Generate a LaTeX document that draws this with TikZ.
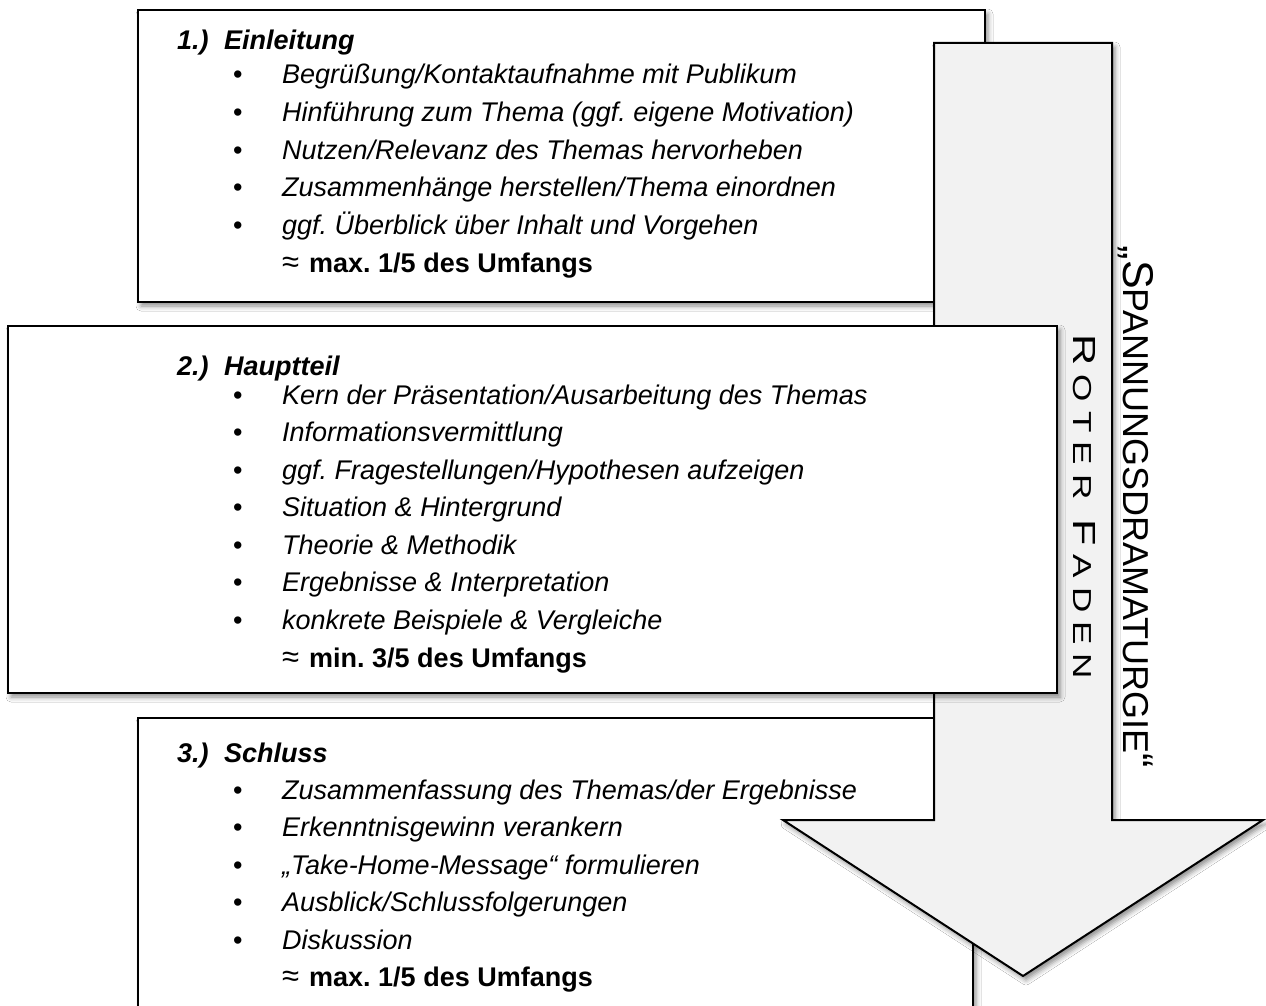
\documentclass[tikz,border=0pt]{standalone}
\usepackage{fontspec}
\setmainfont{Liberation Sans}
\newfontfamily\widefont[FakeStretch=1.35]{Liberation Sans}
\usetikzlibrary{shadows.blur}
\begin{document}
\frenchspacing
\begin{tikzpicture}[x=1pt,y=-1pt,
  boxstyle/.style={draw=black, line width=2.4pt, fill=white,
    blur shadow={shadow xshift=3pt, shadow yshift=-4pt, shadow blur radius=5pt, shadow opacity=45}},
  arrowstyle/.style={draw=black, line width=2pt, fill=arrowgray, line join=miter,
    blur shadow={shadow xshift=3pt, shadow yshift=-4pt, shadow blur radius=5pt, shadow opacity=45}},
  hdr/.style={anchor=base west, inner sep=0pt, font=\fontsize{27}{32}\selectfont\bfseries\itshape},
  itm/.style={anchor=base west, inner sep=0pt, font=\fontsize{27}{32}\selectfont\itshape},
  bul/.style={anchor=base west, inner sep=0pt, font=\fontsize{27}{32}\selectfont},
  amt/.style={anchor=base west, inner sep=0pt, font=\fontsize{27}{32}\selectfont},
  rot/.style={rotate=-90, inner sep=0pt, anchor=center}
]
\definecolor{arrowgray}{HTML}{F2F2F2}
\newcommand\approxsym{{\fontsize{31}{32}\selectfont ≈}\hspace{10pt}}
\fill[white] (0,0) rectangle (1266,1006);
\useasboundingbox (0,0) rectangle (1266,1006);

% Box 1
\path[boxstyle] (138,10) rectangle (985,302);
\node[hdr] (h1n) at (177,50) {1.)};
\node[hdr] (h1t) at (224,50) {Einleitung};
\foreach \t [count=\i] in {{Begrüßung/Kontaktaufnahme mit Publikum},
  {Hinführung zum Thema (ggf. eigene Motivation)},
  {Nutzen/Relevanz des Themas hervorheben},
  {Zusammenhänge herstellen/Thema einordnen},
  {ggf. Überblick über Inhalt und Vorgehen}} {
  \node[bul] (b1\i) at (233,{84+37.5*(\i-1)}) {\textbullet};
  \node[itm] (t1\i) at (282,{84+37.5*(\i-1)}) {\t};
}
\node[amt] (a1) at (282,272) {\approxsym\textbf{max. 1/5 des Umfangs}};

% Box 3
\path[boxstyle] (138,718) rectangle (973,1040);
\node[hdr] (h3n) at (177,762) {3.)};
\node[hdr] (h3t) at (224,762) {Schluss};
\foreach \t [count=\i] in {{Zusammenfassung des Themas/der Ergebnisse},
  {Erkenntnisgewinn verankern},
  {„Take-Home-Message“ formulieren},
  {Ausblick/Schlussfolgerungen},
  {Diskussion}} {
  \node[bul] (b3\i) at (233,{799+37.5*(\i-1)}) {\textbullet};
  \node[itm] (t3\i) at (282,{799+37.5*(\i-1)}) {\t};
}
\node[amt] (a3) at (282,986) {\approxsym\textbf{max. 1/5 des Umfangs}};

% Arrow
\path[arrowstyle] (934,43) -- (1112,43) -- (1112,820) -- (1263,820) -- (1023,976)
  -- (783,820) -- (934,820) -- cycle;
\node[rot] (rf) at (1084,507) {\widefont\fontsize{32}{32}\selectfont R\fontsize{26}{26}\selectfont\hspace{9pt}O\hspace{9pt}T\hspace{9pt}E\hspace{9pt}R\hspace{20pt}\fontsize{32}{32}\selectfont F\fontsize{26}{26}\selectfont\hspace{9pt}A\hspace{9pt}D\hspace{9pt}E\hspace{9pt}N};
\node[rot] (sd) at (1136,507) {\fontsize{43}{43}\selectfont „S\fontsize{36}{36}\selectfont PANNUNGSDRAMATURGIE\fontsize{43}{43}\selectfont “};

% Box 2
\path[boxstyle] (8,326) rectangle (1057,693);
\node[hdr] (h2n) at (177,375) {2.)};
\node[hdr] (h2t) at (224,375) {Hauptteil};
\foreach \t [count=\i] in {{Kern der Präsentation/Ausarbeitung des Themas},
  {Informationsvermittlung},
  {ggf. Fragestellungen/Hypothesen aufzeigen},
  {Situation \& Hintergrund},
  {Theorie \& Methodik},
  {Ergebnisse \& Interpretation},
  {konkrete Beispiele \& Vergleiche}} {
  \node[bul] (b2\i) at (233,{404+37.5*(\i-1)}) {\textbullet};
  \node[itm] (t2\i) at (282,{404+37.5*(\i-1)}) {\t};
}
\node[amt] (a2) at (282,667) {\approxsym\textbf{min. 3/5 des Umfangs}};
\end{tikzpicture}
\end{document}
